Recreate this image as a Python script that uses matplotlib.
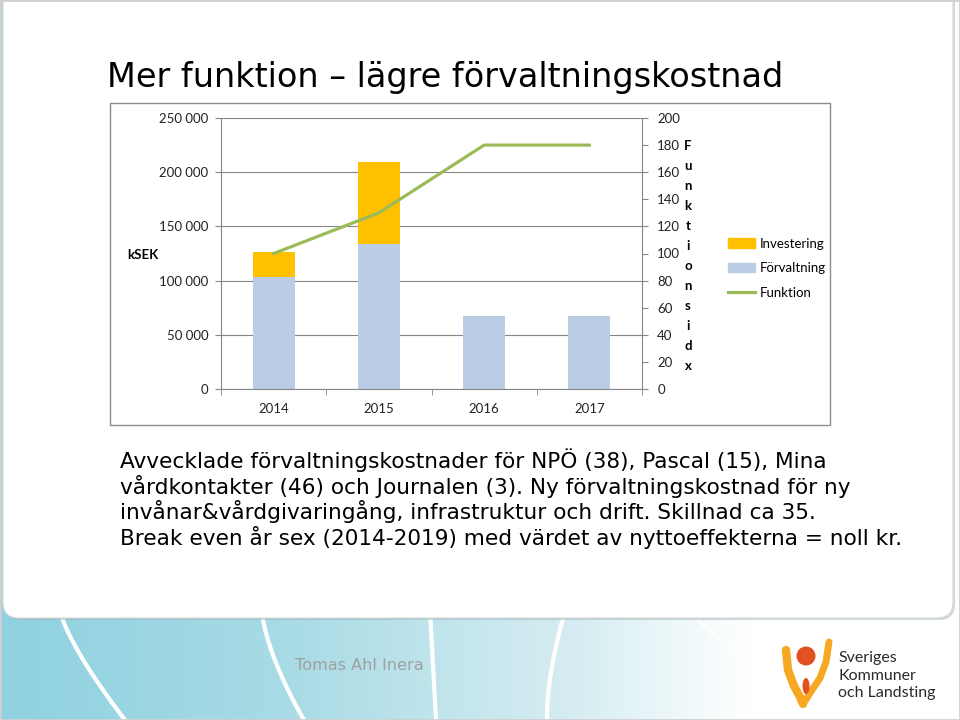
import numpy as np
import matplotlib.pyplot as plt
from matplotlib.patches import FancyBboxPatch, Rectangle, Circle, Ellipse, Patch
from matplotlib.lines import Line2D
from matplotlib.ticker import FuncFormatter

# data
years = ['2014', '2015', '2016', '2017']
forvaltning = [103000, 134000, 67500, 67500]
investering = [23500, 75500, 0, 0]
funktion = [100, 130, 180, 180]
left_ticks = [0, 50000, 100000, 150000, 200000, 250000]
right_ticks = [0, 20, 40, 60, 80, 100, 120, 140, 160, 180, 200]

title = 'Mer funktion \u2013 lägre förvaltningskostnad'
body = ['Avvecklade förvaltningskostnader för NPÖ (38), Pascal (15), Mina',
        'vårdkontakter (46) och Journalen (3). Ny förvaltningskostnad för ny',
        'invånar&vårdgivaringång, infrastruktur och drift. Skillnad ca 35.',
        'Break even år sex (2014-2019) med värdet av nyttoeffekterna = noll kr.']

c_inv = '#FFC000'
c_forv = '#B9CDE5'
c_funk = '#9BBB59'
c_grid = '#868686'
chart_font = 'Lato'

fig = plt.figure(figsize=(9.6, 7.2), dpi=100)

# slide background (pixel coordinates)
bg = fig.add_axes([0, 0, 1, 1])
bg.set_xlim(0, 960)
bg.set_ylim(720, 0)
bg.axis('off')

t = np.linspace(0, 1, 400)
r = np.interp(t, [0, 0.3, 0.6, 0.78, 1], [0.56, 0.66, 0.84, 1.0, 1.0])
g = np.interp(t, [0, 0.3, 0.6, 0.78, 1], [0.82, 0.86, 0.93, 1.0, 1.0])
b = np.interp(t, [0, 0.3, 0.6, 0.78, 1], [0.88, 0.90, 0.95, 1.0, 1.0])
grad = np.dstack([r, g, b])
bg.imshow(grad, extent=(0, 960, 720, 0), aspect='auto', zorder=0)

# white swooshes at the bottom
s = np.linspace(0, 1, 50)
bg.plot(60 + 65 * s ** 1.3, 610 + 110 * s, color='white', lw=3, zorder=1)
bg.plot(262 + 42 * s ** 1.5, 610 + 110 * s, color='white', lw=3, zorder=1)
bg.plot(430 + 6 * s, 610 + 110 * s, color='white', lw=3, zorder=1)
bg.plot(565 - 18 * np.sin(s * np.pi / 2), 610 + 110 * s, color='white', lw=3, zorder=1)
bg.plot(690 + 60 * s, 610 + 50 * s ** 0.8, color='white', lw=2.5, alpha=0.8, zorder=1)

# content panel
bg.add_patch(FancyBboxPatch((5, -30), 950, 650, boxstyle='round,pad=0,rounding_size=16',
                            fc='#9ab3bb', ec='none', alpha=0.5, zorder=1.5))
bg.add_patch(FancyBboxPatch((3, -30), 950, 648, boxstyle='round,pad=0,rounding_size=16',
                            fc='white', ec='#d8d8d8', lw=0.8, zorder=2))
bg.add_patch(Rectangle((0, 0), 960, 720, fc='none', ec='#d0d0d0', lw=2, zorder=5))

# chart frame
bg.add_patch(Rectangle((110, 103), 720, 322, fc='white', ec='#8c8c8c', lw=1, zorder=3))

bg.text(107, 87, title, fontsize=24.1, family='DejaVu Sans', va='baseline', zorder=4)
for i, line in enumerate(body):
    bg.text(120, 468 + 25.7 * i, line, fontsize=15.55, family='DejaVu Sans',
            va='baseline', zorder=4)

bg.text(295, 665, 'Tomas Ahl Inera', fontsize=11.6, family='DejaVu Sans', color='#a0a0a0',
        va='center', zorder=4)

# logo
bg.plot([786, 788, 794, 800, 803], [650, 670, 686, 697, 704], color='#F7A823', lw=6,
        solid_capstyle='round', zorder=4)
bg.plot([803, 812, 820, 826, 829], [704, 690, 678, 662, 642], color='#F7A823', lw=5,
        solid_capstyle='round', zorder=4)
bg.add_patch(Circle((806, 656), 9.5, fc='#E2501F', ec='none', zorder=5))
bg.add_patch(Ellipse((806, 686), 7, 16, fc='#E2501F', ec='none', zorder=5))
for i, w in enumerate(['Sveriges', 'Kommuner', 'och Landsting']):
    bg.text(838, 658 + 17.5 * i, w, fontsize=11.5, family='Lato', color='#2a2a2a',
            va='center', zorder=4)

# chart
ax = fig.add_axes([221 / 960, 1 - 389 / 720, 421 / 960, 271 / 720])
ax.patch.set_visible(False)
x = np.arange(len(years))
ax.bar(x, forvaltning, width=0.4, color=c_forv, zorder=2)
ax.bar(x, investering, width=0.4, bottom=forvaltning, color=c_inv, zorder=2)
ax.set_xlim(-0.5, len(years) - 0.5)
ax.set_ylim(0, 250000)
ax.set_yticks(left_ticks)
ax.yaxis.set_major_formatter(FuncFormatter(lambda v, p: f'{int(v):,}'.replace(',', ' ')))
ax.yaxis.grid(True, color=c_grid, lw=0.8)
ax.set_axisbelow(True)
ax.set_xticks(x)
ax.set_xticklabels(years)
ax.set_xticks(np.arange(len(years) + 1) - 0.5, minor=True)
ax.tick_params(axis='x', which='major', length=0, pad=10)
ax.tick_params(axis='x', which='minor', length=4, color=c_grid, direction='out')
ax.tick_params(axis='y', length=4, color=c_grid, pad=5)
for spine in ['top', 'right']:
    ax.spines[spine].set_visible(False)
for spine in ['left', 'bottom']:
    ax.spines[spine].set_color(c_grid)

ax2 = ax.twinx()
ax2.plot(x, funktion, color=c_funk, lw=2.3, zorder=3)
ax2.set_ylim(0, 200)
ax2.set_yticks(right_ticks)
ax2.tick_params(axis='y', length=4, color=c_grid, pad=7)
for spine in ['top', 'left', 'bottom']:
    ax2.spines[spine].set_visible(False)
ax2.spines['right'].set_color(c_grid)

for a in (ax, ax2):
    for lab in a.get_xticklabels() + a.get_yticklabels():
        lab.set_fontfamily(chart_font)
        lab.set_fontsize(9.5)
        lab.set_color('#222222')

bg.text(143, 255, 'kSEK', fontsize=9.5, family=chart_font, fontweight='bold',
        ha='center', va='center', zorder=4)
for i, ch in enumerate('Funktionsidx'):
    bg.text(688, 146 + 20 * i, ch, fontsize=9.5, family=chart_font, fontweight='bold',
            ha='center', va='center', zorder=4)

handles = [Patch(color=c_inv), Patch(color=c_forv), Line2D([], [], color=c_funk, lw=2.3)]
leg = ax.legend(handles, ['Investering', 'Förvaltning', 'Funktion'],
                loc='upper left', bbox_to_anchor=(721 / 960, 1 - 231 / 720),
                bbox_transform=fig.transFigure, frameon=False, borderpad=0,
                handlelength=2.1, handleheight=0.7, handletextpad=0.3,
                labelspacing=0.95, prop={'family': chart_font, 'size': 9.5})

fig.savefig('out.png', dpi=100)
